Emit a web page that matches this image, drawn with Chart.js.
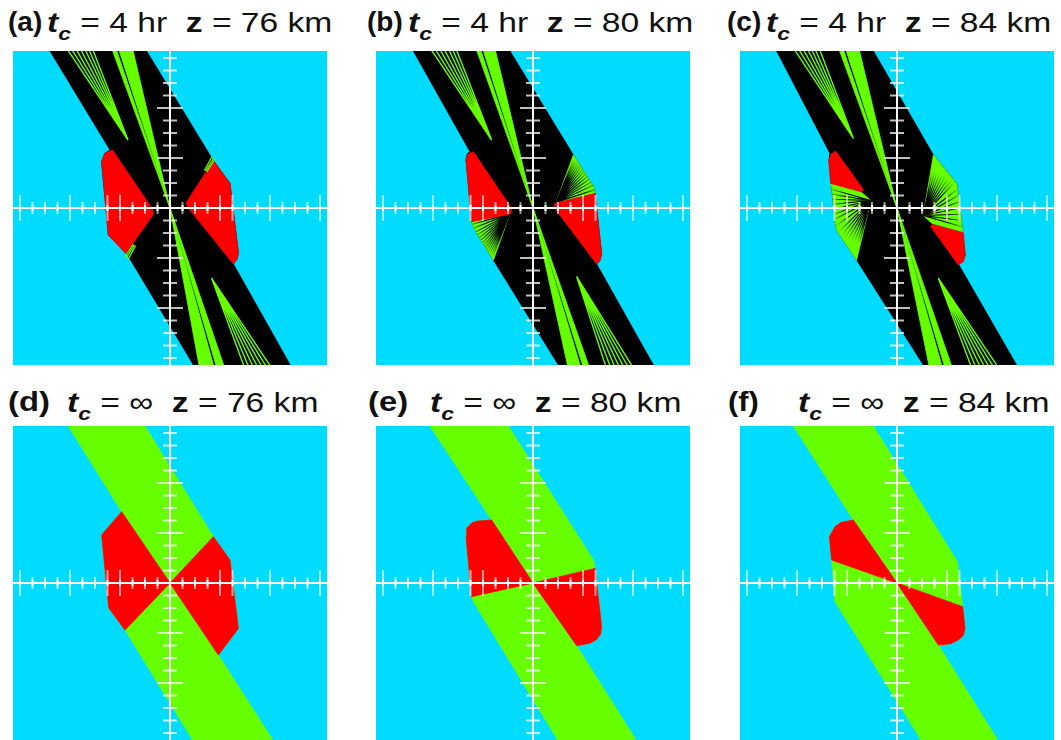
<!DOCTYPE html>
<html><head><meta charset="utf-8">
<script src="https://cdn.jsdelivr.net/npm/chart.js@4/dist/chart.umd.min.js"></script>
<style>
body{margin:0;width:1061px;height:740px;background:#fff;position:relative;overflow:hidden;font-family:"Liberation Sans",Arial,sans-serif;color:#111}
.panel{position:absolute;width:314px;height:314px;background:#00dcff}
.lab{position:absolute;font-size:28px;font-weight:bold;line-height:28px;white-space:pre;transform-origin:0 0}
.ttl{position:absolute;font-size:28px;line-height:28px;white-space:pre;transform-origin:0 0}
.sub{position:relative;top:8px;font-size:19px;font-weight:bold;font-style:italic}
</style></head><body>
<div id="titles"></div>
<canvas class="panel" id="c0" width="314" height="314" style="left:13px;top:51px"></canvas>
<canvas class="panel" id="c1" width="314" height="314" style="left:376px;top:51px"></canvas>
<canvas class="panel" id="c2" width="314" height="314" style="left:740px;top:51px"></canvas>
<canvas class="panel" id="c3" width="314" height="314" style="left:13px;top:426px"></canvas>
<canvas class="panel" id="c4" width="314" height="314" style="left:376px;top:426px"></canvas>
<canvas class="panel" id="c5" width="314" height="314" style="left:740px;top:426px"></canvas>
<script>
// ---------------- data ----------------
const panelLabels = ['(a)','(b)','(c)','(d)','(e)','(f)'];
const panelTc = ['4 hr','4 hr','4 hr','\u221e','\u221e','\u221e'];
const panelZ = ['76 km','80 km','84 km','76 km','80 km','84 km'];
const axisTicks = [-12,-11,-10,-9,-8,-7,-6,-5,-4,-3,-2,-1,1,2,3,4,5,6,7,8,9,10,11,12];
const longTicksX = [-12,-8,-5,-4,4,5,8,12];
const longTicksY = [-8,-4,4,8];
const axisLine = [-12.56, 12.56];

// panel (a) t_c = 4 hr, z = 76 km
const aBlack = [[-9.87,13],[-2.14,13],[3.47,3.79],[4.8,1.97],[5.47,-3.6],[5.35,-4.1],[5.07,-4.48],[9.87,-13],[2.14,-13],[-3.47,-3.63],[-4.93,-2.16],[-5.47,3.7],[-5.2,4.4],[-4.8,4.64]];
const aRedL = [[-4.6,4.64],[-5.2,4.4],[-5.47,3.7],[-4.93,-2.16],[-3.55,-3.63],[-1.5,-0.75],[-1.3,-0.4],[-1.4,-0.1]];
const aRedR = [[1.4,0.1],[1.3,0.4],[1.5,0.75],[3.47,3.79],[4.8,1.97],[5.47,-3.6],[5.35,-4.1],[5.07,-4.48]];
const aWedges = [[[0,0],[-4.75,13],[-4.4,13]],[[0,0],[-4.2,13],[-3.05,13]],[[0,0],[2.4,-13],[3.6,-13]],[[0,0],[3.8,-13],[4.45,-13]]];
const aFanUpApex = [-3.36,5.44];
const aFanUpEnds = [[-8.15,12.6],[-7.8,12.6],[-7.45,12.6],[-7.1,12.6],[-6.75,12.6],[-6.45,12.6],[-6.15,12.6]];
const aFanDnApex = [3.33,-5.63];
const aFanDnEnds = [[5.9,-12.6],[6.25,-12.6],[6.6,-12.6],[6.95,-12.6],[7.3,-12.6],[7.65,-12.6],[8.0,-12.6]];
const aCornerLines = [[[2.75,3.0],[3.35,4.1]],[[2.85,2.95],[3.5,4.0]],[[2.95,2.9],[3.6,3.9]],[[-2.75,-3.0],[-3.35,-4.1]],[[-2.85,-2.95],[-3.5,-4.0]],[[-2.95,-2.9],[-3.6,-3.9]]];

// panel (b) t_c = 4 hr, z = 80 km
const bBlack = [[-9.82,13],[-2.11,13],[3.23,4.24],[4.83,1.71],[4.96,1.17],[5.49,-3.7],[5.35,-4.2],[5.09,-4.48],[9.88,-13],[2.3,-13],[-3.17,-4.16],[-4.64,-1.76],[-4.91,-1.09],[-5.36,3.9],[-5.25,4.35],[-5.04,4.5]];
const bRedL = [[-4.77,4.5],[-5.2,4.3],[-5.36,3.9],[-4.91,-1.09],[-1.84,-0.48],[-1.7,-0.2],[-1.8,0.1]];
const bRedR = [[1.76,0.37],[4.96,1.17],[5.49,-3.7],[5.35,-4.2],[5.09,-4.48],[1.8,-0.1],[1.7,0.15]];
const bFanR = [[1.84,0.45],[4.96,1.17],[4.83,1.71],[3.23,4.24]];
const bFanL = [[-1.84,-0.45],[-4.91,-1.09],[-4.77,-1.49],[-4.64,-1.76],[-3.17,-4.16]];
const bRayR = [[4.9,1.45],[4.78,1.8],[4.62,2.05],[4.47,2.28],[4.33,2.5],[4.2,2.71],[4.07,2.91],[3.95,3.1],[3.84,3.28],[3.73,3.45],[3.62,3.62],[3.52,3.78],[3.42,3.94],[3.33,4.08]];
const bRayL = [[-4.85,-1.3],[-4.72,-1.6],[-4.55,-1.9],[-4.41,-2.13],[-4.28,-2.35],[-4.15,-2.56],[-4.02,-2.77],[-3.9,-2.97],[-3.79,-3.15],[-3.68,-3.33],[-3.57,-3.51],[-3.46,-3.69],[-3.36,-3.85],[-3.27,-4.0]];
const bWedges = [[[0,0],[-4.65,13],[-4.3,13]],[[0,0],[-4.1,13],[-3.1,13]],[[0,0],[2.85,-13],[3.9,-13]],[[0,0],[4.1,-13],[4.6,-13]]];
const bFanUpApex = [-3.31,5.44];
const bFanUpEnds = [[-8.1,12.6],[-7.75,12.6],[-7.4,12.6],[-7.05,12.6],[-6.7,12.6],[-6.4,12.6],[-6.1,12.6]];
const bFanDnApex = [3.49,-5.49];
const bFanDnEnds = [[5.8,-12.6],[6.15,-12.6],[6.5,-12.6],[6.85,-12.6],[7.2,-12.6],[7.55,-12.6],[7.9,-12.6]];

// panel (c) t_c = 4 hr, z = 84 km
const cBlack = [[-9.86,13],[-2.14,13],[2.91,4.24],[4.77,1.97],[5.04,0],[5.25,-1.89],[5.45,-3.76],[5.3,-4.2],[4.91,-4.48],[9.82,-13],[2.39,-13],[-3.23,-4.16],[-4.83,-1.76],[-4.96,-0.96],[-5.23,1.71],[-5.45,3.8],[-5.36,4.37]];
const cRedL = [[-4.9,4.55],[-5.3,4.3],[-5.45,3.8],[-5.31,1.97],[-2.83,1.31],[-2.7,1.45],[-2.85,1.7]];
const cRedR = [[4.9,-4.55],[5.3,-4.3],[5.45,-3.8],[5.31,-1.97],[2.83,-1.31],[2.7,-1.45],[2.85,-1.7]];
const cFanL = [[-2.1,0.6],[-2.83,1.25],[-5.31,1.97],[-5.23,1.71],[-4.96,-0.96],[-4.83,-1.76],[-3.23,-4.16]];
const cFanR = [[2.1,-0.6],[2.83,-1.25],[5.31,-1.97],[5.25,-1.89],[5.04,-0.03],[4.77,1.97],[2.91,4.24]];
const cRayL = [[-5.25,1.5],[-5.2,1.1],[-5.16,0.7],[-5.12,0.3],[-5.08,-0.1],[-5.03,-0.5],[-4.98,-0.9],[-4.88,-1.45],[-4.7,-1.95],[-4.5,-2.25],[-4.3,-2.55],[-4.1,-2.85],[-3.9,-3.15],[-3.7,-3.45],[-3.5,-3.75],[-3.33,-4.0]];
const cRayR = [[3.05,4.07],[3.25,3.83],[3.45,3.59],[3.65,3.35],[3.85,3.1],[4.05,2.86],[4.25,2.61],[4.45,2.37],[4.65,2.12],[4.83,1.5],[4.9,1.0],[4.97,0.5],[5.02,0.0],[5.08,-0.5],[5.14,-1.0],[5.2,-1.5]];
const cWedges = [[[0,0],[-4.75,13],[-4.4,13]],[[0,0],[-4.2,13],[-3.1,13]],[[0,0],[2.64,-13],[3.7,-13]],[[0,0],[3.9,-13],[4.5,-13]]];
const cFanUpApex = [-3.49,5.57];
const cFanUpEnds = [[-8.16,12.6],[-7.8,12.6],[-7.45,12.6],[-7.1,12.6],[-6.8,12.6],[-6.5,12.6],[-6.16,12.6]];
const cFanDnApex = [3.31,-5.63];
const cFanDnEnds = [[5.9,-12.6],[6.25,-12.6],[6.6,-12.6],[6.95,-12.6],[7.3,-12.6],[7.65,-12.6],[8.0,-12.6]];

// panel (d) t_c = inf, z = 76 km
const dGreen = [[-8.41,13],[-2.27,13],[3.47,3.71],[4.8,1.84],[5.47,-3.63],[3.87,-5.76],[8.5,-13],[2.08,-13],[-3.6,-3.76],[-4.9,-2.0],[-5.47,3.84],[-3.87,5.71]];
const dRedL = [[0,0],[-3.87,5.71],[-5.47,3.84],[-4.9,-2.0],[-3.6,-3.76]];
const dRedR = [[0,0],[3.47,3.71],[4.8,1.84],[5.47,-3.63],[3.87,-5.76]];

// panel (e) t_c = inf, z = 80 km
const eGreen = [[-8.53,13],[-2.25,13],[4.83,1.84],[4.96,1.17],[5.49,-3.5],[5.4,-4.1],[5.1,-4.5],[4.6,-4.8],[3.49,-5.01],[8.52,-13],[2.24,-13],[-4.77,-1.49],[-4.91,-1.09],[-5.36,3.71],[-5.3,4.4],[-4.9,4.8],[-4.5,4.95],[-3.31,5.04]];
const eRedL = [[0,0],[-4.91,-1.09],[-5.36,3.71],[-5.3,4.4],[-4.9,4.8],[-4.5,4.95],[-3.31,5.04]];
const eRedR = [[0,0],[4.96,1.17],[5.49,-3.5],[5.4,-4.1],[5.1,-4.5],[4.6,-4.8],[3.49,-5.01]];

// panel (f) t_c = inf, z = 84 km
const fGreen = [[-8.57,13],[-2.16,13],[4.83,1.71],[5.25,-1.89],[5.44,-3.63],[5.3,-4.2],[4.91,-4.56],[4.3,-4.85],[3.31,-4.96],[8.33,-13],[2.19,-13],[-4.96,-1.49],[-5.23,1.84],[-5.41,3.71],[-4.96,4.5],[-4.5,4.85],[-3.49,5.04]];
const fRedL = [[0,0],[-3.49,5.04],[-4.5,4.85],[-4.96,4.5],[-5.41,3.71],[-5.23,1.84]];
const fRedR = [[0,0],[5.25,-1.89],[5.44,-3.63],[5.3,-4.2],[4.91,-4.56],[4.3,-4.85],[3.31,-4.96]];

// ---------------- styles ----------------
const GREEN = '#66ff00', RED = '#ff0000', BLACK = '#000000';

// ---------------- titles ----------------
const labelPos = [[8,8],[367,8],[727,8],[8,388],[368,388],[728,388]];
const labelScale = [1.0,1.0,1.0,1.17,1.17,1.1];
const bodyPos = [[47,9],[408,9],[766,9],[67,389],[430,389],[798,389]];
const bodyScale = [1.2,1.2,1.2,1.2,1.2,1.2];
const tbox = document.getElementById('titles');
panelLabels.forEach((lab, i) => {
  const l = document.createElement('div');
  l.className = 'lab'; l.textContent = lab;
  l.style.left = labelPos[i][0] + 'px'; l.style.top = labelPos[i][1] + 'px';
  l.style.transform = 'scaleX(' + labelScale[i] + ')';
  tbox.appendChild(l);
  const t = document.createElement('div');
  t.className = 'ttl';
  t.innerHTML = '<b><i>t</i></b><span class="sub">c</span> = ' + panelTc[i] + '  <b>z</b> = ' + panelZ[i];
  t.style.left = bodyPos[i][0] + 'px'; t.style.top = bodyPos[i][1] + 'px';
  t.style.transform = 'scaleX(' + bodyScale[i] + ')';
  tbox.appendChild(t);
});

// ---------------- builders ----------------
const P = a => a.map(([x, y]) => ({x, y}));
function polygon(pts, color) {
  const d = P(pts); d.push({...d[0]});
  return {data: d, showLine: true, fill: 'shape', backgroundColor: color, borderColor: color, borderWidth: 0.8, pointRadius: 0, tension: 0};
}
function seg(a, b, color, w) {
  return {data: P([a, b]), showLine: true, fill: false, borderColor: color, borderWidth: w, pointRadius: 0, borderCapStyle: 'butt'};
}
function rays(apex, ends, color, w) {
  const d = [];
  ends.forEach(e => { d.push({x: apex[0], y: apex[1]}); d.push({x: e[0], y: e[1]}); });
  return {data: d, showLine: true, fill: false, borderColor: color, borderWidth: w, pointRadius: 0, borderJoinStyle: 'bevel'};
}
// black rays that fade out away from the fan apex (radial gradient placed through the chart scales)
function fadeRays(apex, ends, w, fadeUnits) {
  const ds = rays(apex, ends, BLACK, w);
  ds.borderColor = (ctx) => {
    const ch = ctx.chart, xs = ch.scales.x, ys = ch.scales.y;
    if (!ch.chartArea || !xs || !ys) return BLACK;
    const px = xs.getPixelForValue(apex[0]), py = ys.getPixelForValue(apex[1]);
    const r = Math.abs(xs.getPixelForValue(fadeUnits) - xs.getPixelForValue(0));
    if (!isFinite(px) || !isFinite(py) || !(r > 0)) return BLACK;
    const g = ch.ctx.createRadialGradient(px, py, 0, px, py, r);
    g.addColorStop(0, 'rgba(0,0,0,1)');
    g.addColorStop(0.55, 'rgba(0,0,0,1)');
    g.addColorStop(1, 'rgba(0,0,0,0)');
    return g;
  };
  return ds;
}
function ticks(axis, longSet, longR, shortR, color, w) {
  return {
    data: axisTicks.map(v => axis === 'x' ? {x: v, y: 0} : {x: 0, y: v}),
    showLine: false, pointStyle: 'line',
    pointRadius: axisTicks.map(v => longSet.includes(v) ? longR : shortR),
    pointRotation: axis === 'x' ? 90 : 0,
    pointBorderColor: color, pointBackgroundColor: color, pointBorderWidth: w
  };
}
function axesLayers() {
  return [
    seg([axisLine[0], 0], [axisLine[1], 0], '#ffffff', 2),
    seg([0, axisLine[0]], [0, axisLine[1]], '#ffffff', 2),
    ticks('x', longTicksX, 13, 6, 'rgba(255,255,255,0.6)', 2),
    ticks('y', longTicksY, 13, 7, 'rgba(255,255,255,0.75)', 2),
    ticks('x', [], 3, 3, 'rgba(255,255,255,0.95)', 2)
  ];
}
function topPanel(black, redL, redR, wedges, upA, upE, dnA, dnE, extras) {
  const L = [polygon(black, BLACK)];
  extras.pre.forEach(x => L.push(x));
  L.push(polygon(redL, RED), polygon(redR, RED));
  wedges.forEach(w => L.push(polygon(w, GREEN)));
  L.push(rays(upA, upE, GREEN, 1.4), rays(dnA, dnE, GREEN, 1.4));
  extras.post.forEach(x => L.push(x));
  return L.concat(axesLayers());
}
function bottomPanel(green, redL, redR) {
  return [polygon(green, GREEN), polygon(redL, RED), polygon(redR, RED)].concat(axesLayers());
}

const layersA = topPanel(aBlack, aRedL, aRedR, aWedges, aFanUpApex, aFanUpEnds, aFanDnApex, aFanDnEnds,
  {pre: [], post: aCornerLines.map(l => seg(l[0], l[1], GREEN, 1.3))});
const layersB = topPanel(bBlack, bRedL, bRedR, bWedges, bFanUpApex, bFanUpEnds, bFanDnApex, bFanDnEnds,
  {pre: [polygon(bFanR, GREEN), polygon(bFanL, GREEN), fadeRays(bFanR[0], bRayR, 1.1, 3.8), fadeRays(bFanL[0], bRayL, 1.1, 3.8)], post: []});
const layersC = topPanel(cBlack, cRedL, cRedR, cWedges, cFanUpApex, cFanUpEnds, cFanDnApex, cFanDnEnds,
  {pre: [polygon(cFanR, GREEN), polygon(cFanL, GREEN), fadeRays(cFanR[0], cRayR, 1.1, 3.6), fadeRays(cFanL[0], cRayL, 1.1, 3.6)], post: []});
const layersD = bottomPanel(dGreen, dRedL, dRedR);
const layersE = bottomPanel(eGreen, eRedL, eRedR);
const layersF = bottomPanel(fGreen, fRedL, fRedR);

const allLayers = [layersA, layersB, layersC, layersD, layersE, layersF];
allLayers.forEach((layers, i) => {
  const n = layers.length;
  new Chart(document.getElementById('c' + i), {
    type: 'scatter',
    data: {datasets: layers.map((ds, k) => Object.assign({order: n - k, clip: 0}, ds))},
    options: {
      responsive: false, animation: false, devicePixelRatio: 1, events: [],
      layout: {padding: 0, autoPadding: false},
      plugins: {legend: {display: false}, tooltip: {enabled: false}, filler: {propagate: false}},
      elements: {line: {tension: 0}},
      scales: {
        x: {type: 'linear', min: -12.56, max: 12.56, display: false},
        y: {type: 'linear', min: -12.56, max: 12.56, display: false}
      }
    }
  });
});
</script>
</body></html>
